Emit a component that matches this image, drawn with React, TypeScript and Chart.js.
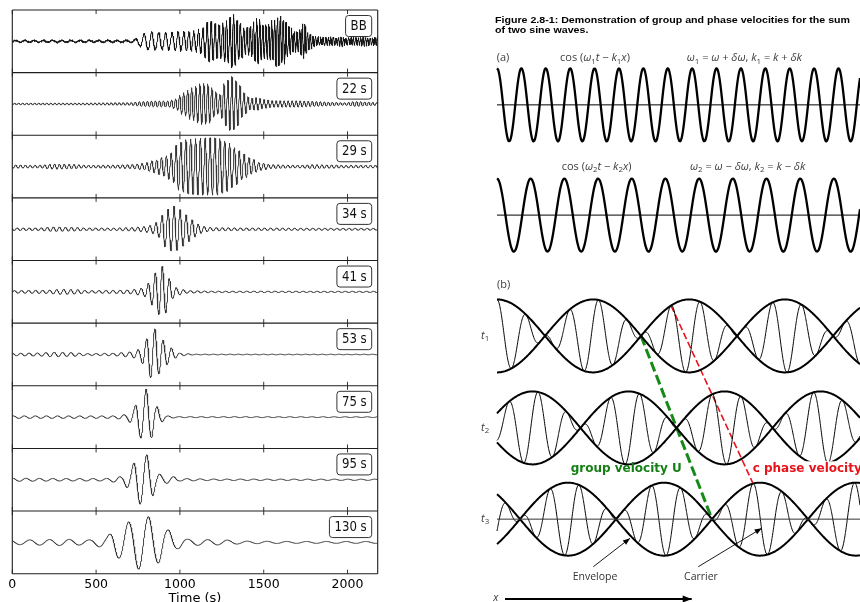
import { useEffect, useRef } from "react";
import { Chart, registerables } from "chart.js";

Chart.register(...registerables);

// ---------------- Seismogram stack: broadband record and narrow-band filters ----------------
const TRACE_LABELS = ["BB", "22 s", "29 s", "34 s", "41 s", "53 s", "75 s", "95 s", "130 s"];
const TIME_TICKS = [0, 500, 1000, 1500, 2000];
const TIME_MAX = 2180;

// narrow-band traces: carrier period (s) and time of the largest crest (s)
const BAND_PERIODS = [24, 29, 36, 42, 50, 66, 80, 118];
const BAND_PEAK_TIMES = [1310, 1180, 965, 895, 850, 798, 802, 812];

// envelope knots for each band: time (s) and amplitude (fraction of a panel height)
const ENV22_T = [0, 400, 700, 780, 850, 930, 970, 1020, 1070, 1130, 1170, 1210, 1235, 1270, 1310, 1345, 1380, 1420, 1460, 1500, 1560, 1700, 1800, 1900, 1980, 2050, 2120, 2180];
const ENV22_A = [0.012, 0.015, 0.02, 0.04, 0.05, 0.05, 0.08, 0.18, 0.26, 0.33, 0.32, 0.2, 0.15, 0.35, 0.44, 0.35, 0.18, 0.09, 0.1, 0.07, 0.05, 0.05, 0.04, 0.03, 0.02, 0.04, 0.03, 0.02];
const ENV29_T = [0, 150, 250, 350, 450, 600, 700, 780, 850, 900, 950, 990, 1050, 1150, 1220, 1280, 1330, 1380, 1430, 1480, 1550, 1700, 1800, 1900, 2000, 2180];
const ENV29_A = [0.025, 0.02, 0.04, 0.035, 0.02, 0.025, 0.03, 0.05, 0.1, 0.15, 0.22, 0.38, 0.44, 0.46, 0.46, 0.4, 0.3, 0.2, 0.12, 0.06, 0.03, 0.02, 0.03, 0.025, 0.02, 0.02];
const ENV34_T = [0, 150, 250, 350, 450, 600, 700, 780, 830, 870, 910, 940, 965, 990, 1020, 1050, 1080, 1110, 1150, 1200, 1400, 2180];
const ENV34_A = [0.02, 0.02, 0.035, 0.03, 0.02, 0.02, 0.025, 0.04, 0.06, 0.12, 0.28, 0.34, 0.37, 0.33, 0.27, 0.2, 0.14, 0.08, 0.04, 0.025, 0.02, 0.015];
const ENV41_T = [0, 200, 300, 380, 450, 600, 700, 780, 820, 850, 870, 895, 920, 940, 960, 990, 1050, 1200, 2180];
const ENV41_A = [0.02, 0.025, 0.04, 0.035, 0.02, 0.025, 0.03, 0.06, 0.15, 0.3, 0.36, 0.41, 0.33, 0.2, 0.1, 0.05, 0.02, 0.012, 0.01];
const ENV53_T = [0, 150, 250, 350, 450, 600, 700, 760, 790, 820, 850, 880, 910, 940, 970, 1000, 1100, 2180];
const ENV53_A = [0.02, 0.025, 0.035, 0.03, 0.015, 0.02, 0.04, 0.08, 0.2, 0.37, 0.41, 0.3, 0.2, 0.12, 0.06, 0.02, 0.006, 0.005];
const ENV75_T = [0, 300, 600, 680, 720, 750, 780, 800, 830, 860, 890, 920, 1000, 2180];
const ENV75_A = [0.02, 0.02, 0.02, 0.04, 0.12, 0.28, 0.38, 0.45, 0.33, 0.17, 0.08, 0.02, 0.008, 0.006];
const ENV95_T = [0, 300, 550, 650, 700, 740, 770, 800, 830, 860, 900, 960, 1000, 1200, 2180];
const ENV95_A = [0.025, 0.02, 0.02, 0.05, 0.15, 0.33, 0.4, 0.4, 0.3, 0.12, 0.06, 0.05, 0.02, 0.012, 0.01];
const ENV130_T = [0, 200, 300, 450, 550, 630, 700, 760, 810, 870, 930, 990, 1050, 1150, 1250, 1400, 1700, 2180];
const ENV130_A = [0.035, 0.045, 0.05, 0.04, 0.08, 0.25, 0.33, 0.43, 0.41, 0.33, 0.2, 0.1, 0.05, 0.045, 0.04, 0.02, 0.015, 0.015];

// broadband record: dispersed wave train (period falls with time) plus background noise
const BB_PEAK_TIME = 1320;
const BB_ENV_T = [0, 700, 745, 780, 820, 900, 1000, 1080, 1130, 1180, 1240, 1290, 1320, 1350, 1390, 1430, 1460, 1500, 1540, 1590, 1625, 1660, 1700, 1740, 1770, 1820, 2180];
const BB_ENV_A = [0.015, 0.015, 0.04, 0.12, 0.14, 0.13, 0.15, 0.15, 0.2, 0.32, 0.25, 0.35, 0.43, 0.3, 0.2, 0.25, 0.37, 0.26, 0.3, 0.4, 0.33, 0.2, 0.15, 0.28, 0.12, 0.06, 0.05];
const BB_PERIOD_T = [0, 740, 800, 950, 1050, 1150, 1300, 1500, 1700, 2180];
const BB_PERIOD_S = [55, 55, 45, 38, 30, 25, 21, 18, 16, 14];
const BB_NOISE_T = [0, 700, 1100, 1500, 1900, 2180];
const BB_NOISE_A = [0.018, 0.02, 0.03, 0.04, 0.035, 0.035];
const BB_NOISE_PERIODS = [4.7, 7.3, 11.9];
const BB_NOISE_WEIGHTS = [0.5, 0.3, 0.2];

const BAND_ENVELOPES = [
  [ENV22_T, ENV22_A], [ENV29_T, ENV29_A], [ENV34_T, ENV34_A], [ENV41_T, ENV41_A],
  [ENV53_T, ENV53_A], [ENV75_T, ENV75_A], [ENV95_T, ENV95_A], [ENV130_T, ENV130_A],
];

function smoothAt(ts: number[], vs: number[], t: number) {
  if (t <= ts[0]) return vs[0];
  for (let i = 0; i < ts.length - 1; i++) {
    if (t <= ts[i + 1]) {
      const u = (t - ts[i]) / (ts[i + 1] - ts[i]);
      const s = u * u * (3 - 2 * u);
      return vs[i] + (vs[i + 1] - vs[i]) * s;
    }
  }
  return vs[vs.length - 1];
}

function linearAt(ts: number[], vs: number[], t: number) {
  if (t <= ts[0]) return vs[0];
  for (let i = 0; i < ts.length - 1; i++) {
    if (t <= ts[i + 1]) {
      const u = (t - ts[i]) / (ts[i + 1] - ts[i]);
      return vs[i] + (vs[i + 1] - vs[i]) * u;
    }
  }
  return vs[vs.length - 1];
}

const TRACE_COUNT = TRACE_LABELS.length;
const baseline = (i: number) => TRACE_COUNT - i - 0.5;

function broadbandTrace() {
  const phases: number[] = [];
  let ph = 0;
  for (let t = 0; t <= TIME_MAX; t++) {
    phases.push(ph);
    ph += (2 * Math.PI) / linearAt(BB_PERIOD_T, BB_PERIOD_S, t);
  }
  const ref = phases[BB_PEAK_TIME];
  const pts: { x: number; y: number }[] = [];
  for (let t = 0; t <= TIME_MAX; t++) {
    let noise = 0;
    BB_NOISE_PERIODS.forEach((p, j) => {
      noise += BB_NOISE_WEIGHTS[j] * Math.sin((2 * Math.PI * t) / p + j);
    });
    const y =
      baseline(0) +
      smoothAt(BB_ENV_T, BB_ENV_A, t) * Math.cos(phases[t] - ref) +
      smoothAt(BB_NOISE_T, BB_NOISE_A, t) * noise;
    pts.push({ x: t, y });
  }
  return pts;
}

function bandTrace(k: number) {
  const [ts, as] = BAND_ENVELOPES[k];
  const P = BAND_PERIODS[k];
  const t0 = BAND_PEAK_TIMES[k];
  const pts: { x: number; y: number }[] = [];
  for (let t = 0; t <= TIME_MAX; t++) {
    pts.push({ x: t, y: baseline(k + 1) + smoothAt(ts, as, t) * Math.cos((2 * Math.PI * (t - t0)) / P) });
  }
  return pts;
}

const panelPlugin = {
  id: "panelFrames",
  afterDatasetsDraw(chart: any) {
    const { ctx, chartArea: a, scales } = chart;
    const xs = scales.x;
    const ys = scales.y;
    ctx.save();
    ctx.strokeStyle = "#1e1e1e";
    ctx.lineWidth = 1.1;
    ctx.beginPath();
    for (let k = 0; k <= TRACE_COUNT; k++) {
      const py = ys.getPixelForValue(k);
      ctx.moveTo(a.left, py);
      ctx.lineTo(a.right, py);
    }
    ctx.moveTo(a.left, a.top);
    ctx.lineTo(a.left, a.bottom);
    ctx.moveTo(a.right, a.top);
    ctx.lineTo(a.right, a.bottom);
    ctx.stroke();

    // inward tick marks on the top and bottom edge of every panel
    ctx.lineWidth = 0.9;
    ctx.beginPath();
    for (let k = 0; k < TRACE_COUNT; k++) {
      const yb = ys.getPixelForValue(k);
      const yt = ys.getPixelForValue(k + 1);
      for (const v of TIME_TICKS) {
        const px = xs.getPixelForValue(v);
        ctx.moveTo(px, yb);
        ctx.lineTo(px, yb - 4);
        ctx.moveTo(px, yt);
        ctx.lineTo(px, yt + 4);
      }
    }
    ctx.stroke();

    // band labels in rounded boxes
    ctx.font = "13.5px 'DejaVu Sans'";
    ctx.textBaseline = "middle";
    ctx.textAlign = "left";
    TRACE_LABELS.forEach((label, i) => {
      const top = ys.getPixelForValue(TRACE_COUNT - i) + 5.5;
      const tw = ctx.measureText(label).width * 0.87;
      const w = tw + 10;
      const h = 21;
      const left = a.right - 6 - w;
      ctx.beginPath();
      if (ctx.roundRect) ctx.roundRect(left, top, w, h, 3);
      else ctx.rect(left, top, w, h);
      ctx.fillStyle = "#ffffff";
      ctx.fill();
      ctx.strokeStyle = "#333333";
      ctx.lineWidth = 1;
      ctx.stroke();
      ctx.fillStyle = "#111111";
      ctx.fillText(label, left + 5, top + h / 2 + 0.5, tw);
    });
    ctx.restore();
  },
};

function seismogramConfig(): any {
  const datasets = [
    {
      data: broadbandTrace(),
      borderColor: "#141414",
      borderWidth: 1,
    },
    ...BAND_PERIODS.map((_, k) => ({
      data: bandTrace(k),
      borderColor: "#333333",
      borderWidth: 0.9,
    })),
  ].map((d) => ({ ...d, pointRadius: 0, tension: 0, borderJoinStyle: "round", fill: false }));

  return {
    type: "line",
    data: { datasets },
    options: {
      responsive: false,
      animation: false,
      devicePixelRatio: 1,
      layout: { padding: { left: 12.3, right: 12.3, top: 10, bottom: 0 } },
      plugins: { legend: { display: false }, tooltip: { enabled: false } },
      events: [],
      scales: {
        x: {
          type: "linear",
          min: 0,
          max: TIME_MAX,
          afterBuildTicks: (s: any) => {
            s.ticks = TIME_TICKS.map((v) => ({ value: v }));
          },
          afterFit: (s: any) => {
            s.height = 46.3;
          },
          grid: { display: false, drawTicks: false },
          border: { display: false },
          ticks: {
            color: "#000",
            padding: 4,
            maxRotation: 0,
            autoSkip: false,
            font: { family: "'DejaVu Sans'", size: 12.5 },
            callback: (v: number) => String(v),
          },
          title: {
            display: true,
            text: "Time (s)",
            color: "#000",
            font: { family: "'DejaVu Sans'", size: 13 },
            padding: { top: 4, bottom: 14 },
          },
        },
        y: { display: false, min: 0, max: TRACE_COUNT },
      },
    },
    plugins: [panelPlugin],
  };
}

// ---------------- Group / phase velocity illustration ----------------
// wavelengths of the two component waves, in units of distance x
const COMPONENT_WAVELENGTHS = [0.672, 0.928];
// summed wave: envelope and carrier wavelengths, and their shifts at t1, t2, t3
const ENVELOPE_WAVELENGTH = 5.29;
const CARRIER_WAVELENGTH = 0.799;
const ENVELOPE_SHIFTS = [0, 0.978, 1.956];
const CARRIER_SHIFTS = [0, 1.13, 2.26];
const TIME_LABELS = ["1", "2", "3"];
const TRACKED_CREST = 6; // carrier crest followed by the phase-velocity line
const TRACKED_NODE = 1; // envelope node followed by the group-velocity line

// vertical layout of the rows (units of wave amplitude)
const ROW_A1 = 13.62;
const ROW_A2 = 10.6;
const ROW_T = [7.29, 4.77, 2.27];
const X_END = 10;
const WAVE_STEP = 0.025;

function curve(fn: (x: number) => number) {
  const pts: { x: number; y: number }[] = [];
  for (let i = 0; ; i++) {
    const x = i * WAVE_STEP;
    if (x > X_END + 1e-9) break;
    pts.push({ x, y: fn(x) });
  }
  return pts;
}

const envelopeAt = (k: number, x: number) =>
  Math.cos((2 * Math.PI * (x - ENVELOPE_SHIFTS[k])) / ENVELOPE_WAVELENGTH);
const carrierAt = (k: number, x: number) =>
  Math.cos((2 * Math.PI * (x - CARRIER_SHIFTS[k])) / CARRIER_WAVELENGTH);

type Seg = [string, "n" | "i" | "s"];
const LABEL_COS1: Seg[] = [["cos (", "n"], ["ω", "i"], ["1", "s"], ["t", "i"], [" − ", "n"], ["k", "i"], ["1", "s"], ["x", "i"], [")", "n"]];
const LABEL_DEF1: Seg[] = [["ω", "i"], ["1", "s"], [" = ", "n"], ["ω", "i"], [" + ", "n"], ["δω", "i"], [", ", "n"], ["k", "i"], ["1", "s"], [" = ", "n"], ["k", "i"], [" + ", "n"], ["δk", "i"]];
const LABEL_COS2: Seg[] = [["cos (", "n"], ["ω", "i"], ["2", "s"], ["t", "i"], [" − ", "n"], ["k", "i"], ["2", "s"], ["x", "i"], [")", "n"]];
const LABEL_DEF2: Seg[] = [["ω", "i"], ["2", "s"], [" = ", "n"], ["ω", "i"], [" − ", "n"], ["δω", "i"], [", ", "n"], ["k", "i"], ["2", "s"], [" = ", "n"], ["k", "i"], [" − ", "n"], ["δk", "i"]];

const BOOK_FONT = "'Open Sans'";

function drawRich(ctx: any, segs: Seg[], x: number, y: number, size: number, color: string) {
  let cx = x;
  ctx.fillStyle = color;
  ctx.textBaseline = "middle";
  ctx.textAlign = "left";
  for (const [s, st] of segs) {
    const fs = st === "s" ? size * 0.72 : size;
    ctx.font = `${st === "i" ? "italic " : ""}${fs}px ${BOOK_FONT}`;
    const w = ctx.measureText(s).width;
    ctx.fillText(s, cx, st === "s" ? y + size * 0.28 : y);
    cx += w;
  }
}

// annotation arrows: [x0, y0, x1, y1, head length]
const ARROWS = [
  [2.653, 0.967, 3.664, 1.745, 7],
  [5.545, 0.967, 7.292, 2.019, 7],
  [0.22, 0.082, 5.364, 0.082, 9],
];

const notesPlugin = {
  id: "waveNotes",
  afterDatasetsDraw(chart: any) {
    const { ctx, scales } = chart;
    const X = (v: number) => scales.x.getPixelForValue(v);
    const Y = (v: number) => scales.y.getPixelForValue(v);
    ctx.save();

    // arrow heads
    ctx.fillStyle = "#000";
    for (const [x0, y0, x1, y1, L] of ARROWS) {
      const ax = X(x1), ay = Y(y1);
      const ang = Math.atan2(ay - Y(y0), ax - X(x0));
      const hw = L * 0.4;
      ctx.beginPath();
      ctx.moveTo(ax, ay);
      ctx.lineTo(ax - L * Math.cos(ang) + hw * Math.sin(ang), ay - L * Math.sin(ang) - hw * Math.cos(ang));
      ctx.lineTo(ax - L * Math.cos(ang) - hw * Math.sin(ang), ay - L * Math.sin(ang) + hw * Math.cos(ang));
      ctx.closePath();
      ctx.fill();
    }

    // caption, stretched to the column width
    ctx.fillStyle = "#000";
    ctx.textBaseline = "middle";
    ctx.textAlign = "left";
    ctx.font = "bold 9.6px 'Liberation Sans'";
    const line1 = "Figure 2.8-1: Demonstration of group and phase velocities for the sum";
    const line2 = "of two sine waves.";
    const w1 = ctx.measureText(line1).width;
    const sx = 355 / w1;
    ctx.save();
    ctx.translate(X(-0.055), 0);
    ctx.scale(sx, 1);
    ctx.fillText(line1, 0, Y(15.945));
    ctx.fillText(line2, 0, Y(15.67));
    ctx.restore();

    const grey = "#3c3c3c";
    ctx.font = `11px ${BOOK_FONT}`;
    ctx.fillStyle = grey;
    ctx.fillText("(a)", X(-0.01), Y(14.896));
    ctx.fillText("(b)", X(0), Y(8.685));
    drawRich(ctx, LABEL_COS1, X(1.736), Y(14.896), 11, grey);
    drawRich(ctx, LABEL_DEF1, X(5.226), Y(14.896), 11, grey);
    drawRich(ctx, LABEL_COS2, X(1.782), Y(11.926), 11, grey);
    drawRich(ctx, LABEL_DEF2, X(5.317), Y(11.926), 11, grey);
    TIME_LABELS.forEach((s, k) => {
      drawRich(ctx, [["t", "i"], [s, "s"]], X(-0.44), Y(ROW_T[k]), 11, grey);
    });

    ctx.font = `10.5px ${BOOK_FONT}`;
    ctx.fillStyle = "#333";
    ctx.fillText("Envelope", X(2.085), Y(0.693));
    ctx.fillText("Carrier", X(5.152), Y(0.693));
    ctx.font = `italic 10.5px ${BOOK_FONT}`;
    ctx.fillText("x", X(-0.1), Y(0.1));

    ctx.font = "bold 12px 'DejaVu Sans'";
    ctx.fillStyle = "#148014";
    ctx.fillText("group velocity U", X(2.03), Y(3.636));
    const red = "c phase velocity";
    const rw = ctx.measureText(red).width;
    ctx.fillStyle = "#ffffff";
    ctx.fillRect(X(7.044) - 2, Y(3.636) - 8, rw + 4, 16);
    ctx.fillStyle = "#e8141b";
    ctx.fillText(red, X(7.044), Y(3.636));
    ctx.restore();
  },
};

function waveConfig(): any {
  const thick = { borderColor: "#000", borderWidth: 2.3 };
  const datasets: any[] = [
    { data: [{ x: 0, y: ROW_A1 }, { x: X_END, y: ROW_A1 }], borderColor: "#000", borderWidth: 1 },
    { data: curve((x) => ROW_A1 + Math.cos((2 * Math.PI * x) / COMPONENT_WAVELENGTHS[0])), ...thick },
    { data: [{ x: 0, y: ROW_A2 }, { x: X_END, y: ROW_A2 }], borderColor: "#000", borderWidth: 1 },
    { data: curve((x) => ROW_A2 + Math.cos((2 * Math.PI * x) / COMPONENT_WAVELENGTHS[1])), ...thick },
    { data: [{ x: 0, y: ROW_T[2] }, { x: X_END, y: ROW_T[2] }], borderColor: "#333", borderWidth: 1 },
  ];
  ROW_T.forEach((row, k) => {
    datasets.push({ data: curve((x) => row + envelopeAt(k, x) * carrierAt(k, x)), borderColor: "#000", borderWidth: 1 });
    datasets.push({ data: curve((x) => row + envelopeAt(k, x)), borderColor: "#000", borderWidth: 2 });
    datasets.push({ data: curve((x) => row - envelopeAt(k, x)), borderColor: "#000", borderWidth: 2 });
  });

  // group velocity: follows an envelope node from t1 to t3
  const nodeX = (k: number) => ENVELOPE_SHIFTS[k] + ENVELOPE_WAVELENGTH * (0.25 + 0.5 * TRACKED_NODE);
  datasets.push({
    data: [{ x: nodeX(0), y: ROW_T[0] }, { x: nodeX(2), y: ROW_T[2] }],
    borderColor: "#168a16",
    borderWidth: 3,
    borderDash: [10, 4],
  });
  // phase velocity: follows a carrier crest from t1 to t3
  const crestX = (k: number) => CARRIER_SHIFTS[k] + CARRIER_WAVELENGTH * TRACKED_CREST;
  datasets.push({
    data: [
      { x: crestX(0), y: ROW_T[0] + envelopeAt(0, crestX(0)) },
      { x: crestX(2), y: ROW_T[2] + envelopeAt(2, crestX(2)) },
    ],
    borderColor: "#e8141b",
    borderWidth: 1.6,
    borderDash: [7, 3],
  });
  ARROWS.forEach(([x0, y0, x1, y1], i) => {
    datasets.push({
      data: [{ x: x0, y: y0 }, { x: x1, y: y1 }],
      borderColor: "#000",
      borderWidth: i === 2 ? 1.8 : 0.9,
    });
  });

  return {
    type: "line",
    data: {
      datasets: datasets.map((d) => ({
        pointRadius: 0,
        // a small tension keeps the full path renderer for the dense wave curves
        tension: d.data.length > 2 ? 0.2 : 0,
        fill: false,
        borderJoinStyle: "round",
        ...d,
      })),
    },
    options: {
      responsive: false,
      animation: false,
      devicePixelRatio: 1,
      layout: { padding: 0 },
      events: [],
      plugins: { legend: { display: false }, tooltip: { enabled: false } },
      scales: {
        x: { type: "linear", display: false, min: -0.7438, max: X_END },
        y: { display: false, min: 0, max: 16.493 },
      },
    },
    plugins: [notesPlugin],
  };
}

export default function App() {
  const leftRef = useRef<HTMLCanvasElement>(null);
  const rightRef = useRef<HTMLCanvasElement>(null);

  useEffect(() => {
    const left = new Chart(leftRef.current as HTMLCanvasElement, seismogramConfig());
    const right = new Chart(rightRef.current as HTMLCanvasElement, waveConfig());
    return () => {
      left.destroy();
      right.destroy();
    };
  }, []);

  return (
    <div style={{ position: "fixed", left: 0, top: 0, width: 860, height: 602, overflow: "hidden", background: "#fff" }}>
      <div style={{ position: "absolute", left: 0, top: 0, width: 390, height: 602, overflow: "hidden" }}>
        <canvas ref={leftRef} width={390} height={620} style={{ display: "block" }} />
      </div>
      <canvas ref={rightRef} width={390} height={602} style={{ position: "absolute", left: 470, top: 0, display: "block" }} />
    </div>
  );
}
